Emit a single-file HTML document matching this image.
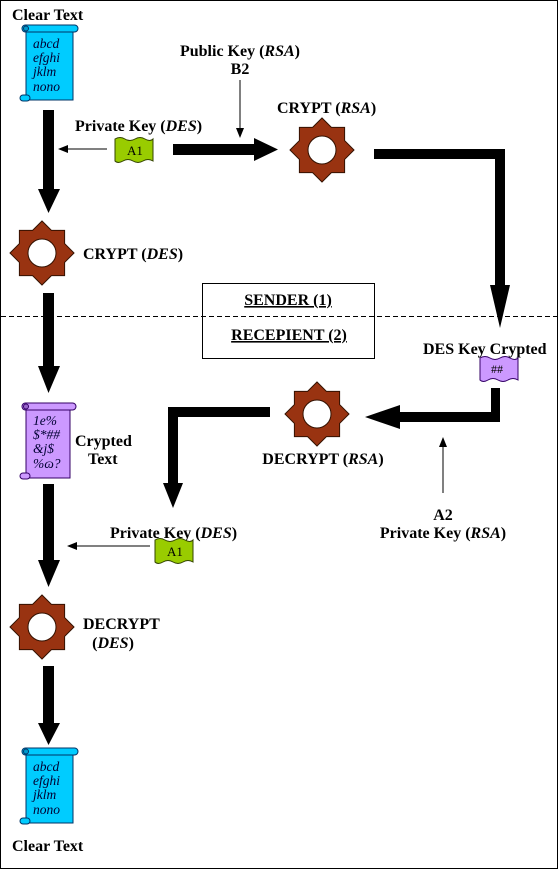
<!DOCTYPE html>
<html><head><meta charset="utf-8"><style>
html,body{margin:0;padding:0;background:#fff;}
svg{display:block;}
text{font-family:"Liberation Serif",serif;}
.b{font-weight:bold;font-size:16px;fill:#000;}
.s{font-style:italic;font-size:13.5px;fill:#000033;}
</style></head><body>
<svg width="558" height="869" viewBox="0 0 558 869" xmlns="http://www.w3.org/2000/svg">
<defs>
<g id="gear">
<polygon points="32,0 22.6,9.4 22.6,22.6 9.4,22.6 0,32 -9.4,22.6 -22.6,22.6 -22.6,9.4 -32,0 -22.6,-9.4 -22.6,-22.6 -9.4,-22.6 0,-32 9.4,-22.6 22.6,-22.6 22.6,-9.4" fill="#993311" stroke="#331100" stroke-width="1"/>
<circle cx="0" cy="0" r="14" fill="#fff" stroke="#331100" stroke-width="1"/>
</g>
<clipPath id="sc"><rect x="8" y="3" width="47" height="69"/></clipPath>
</defs>
<rect x="0.5" y="0.5" width="557" height="868" fill="#fff" stroke="#000"/>
<line x1="1" y1="316.5" x2="557" y2="316.5" stroke="#000" stroke-dasharray="5,3"/>

<g transform="translate(18,25)">
<rect x="8" y="3" width="47" height="72" fill="#00ccff" stroke="#003366"/>
<rect x="4" y="0" width="56" height="7" rx="3.5" fill="#00ccff" stroke="#003366"/>
<circle cx="8" cy="3.5" r="2.5" fill="#0099cc" stroke="#003366"/>
<rect x="2" y="70" width="10" height="6" rx="3" fill="#00ccff" stroke="#003366"/>
<g clip-path="url(#sc)"><text class="s" x="15" y="23">abcd</text><text class="s" x="15" y="37">efghi</text><text class="s" x="15" y="51">jklm</text><text class="s" x="15" y="66">nono</text></g>
</g>
<text class="b" x="12" y="20">Clear Text</text>

<polygon points="43,110 54,110 54,189 60,189 48.5,213 38,189 43,189" fill="#000"/>
<use href="#gear" x="42" y="253"/>
<text class="b" x="83" y="259">CRYPT (<tspan font-style="italic">DES</tspan>)</text>

<text class="b" x="75" y="131">Private Key (<tspan font-style="italic">DES</tspan>)</text>
<g transform="translate(115,137)"><path d="M0,2 Q5,-1 10,2 T20,2 T30,2 T38,2 L38,24 Q33,21 28,24 T18,24 T8,24 T0,24 Z" fill="#99cc00" stroke="#334400"/><text x="12" y="18" font-size="13" fill="#000">A1</text></g>
<line x1="107" y1="149" x2="66" y2="149" stroke="#000"/><polygon points="58,149 68,145 68,153" fill="#000"/>
<polygon points="173,144 254,144 254,138 278,149.5 254,161 254,155 173,155" fill="#000"/>

<text class="b" x="240" y="56" text-anchor="middle">Public Key (<tspan font-style="italic">RSA</tspan>)</text>
<text class="b" x="240" y="74" text-anchor="middle">B2</text>
<line x1="240" y1="80" x2="240" y2="130" stroke="#000"/><polygon points="240,138 236,128 244,128" fill="#000"/>
<text class="b" x="277" y="113">CRYPT (<tspan font-style="italic">RSA</tspan>)</text>
<use href="#gear" x="322" y="150"/>
<polygon points="374,149 505,149 505,285 510,285 500,328 490,285 495,285 495,159 374,159" fill="#000"/>

<rect x="202.5" y="283.5" width="172" height="75" fill="none" stroke="#000"/>
<text class="b" x="288" y="305" text-anchor="middle" text-decoration="underline">SENDER (1)</text>
<text class="b" x="289" y="340" text-anchor="middle" text-decoration="underline">RECEPIENT (2)</text>

<text class="b" x="423" y="354">DES Key Crypted</text>
<g transform="translate(480,356)"><path d="M0,2 Q5,-1 10,2 T20,2 T30,2 T38,2 L38,24 Q33,21 28,24 T18,24 T8,24 T0,24 Z" fill="#cc99ff" stroke="#330066"/><text x="11" y="17" font-size="12" fill="#000" font-family="Liberation Sans,sans-serif">##</text></g>

<polygon points="491,388 500,388 500,422 400,422 400,429 365,417 400,405 400,412 491,412" fill="#000"/>
<use href="#gear" x="317" y="414"/>
<text class="b" x="323" y="464" text-anchor="middle">DECRYPT (<tspan font-style="italic">RSA</tspan>)</text>
<line x1="443" y1="493" x2="443" y2="445" stroke="#000"/><polygon points="443,437 439,447 447,447" fill="#000"/>
<text class="b" x="443" y="520" text-anchor="middle">A2</text>
<text class="b" x="443" y="538" text-anchor="middle">Private Key (<tspan font-style="italic">RSA</tspan>)</text>

<polygon points="270,407 168,407 168,483 163,483 173,508 183,483 178,483 178,417 270,417" fill="#000"/>

<polygon points="43,293 54,293 54,366 60,366 48.5,393 38,366 43,366" fill="#000"/>
<g transform="translate(18,403)">
<rect x="8" y="3" width="44" height="72" fill="#cc99ff" stroke="#330066"/>
<rect x="4" y="0" width="54" height="7" rx="3.5" fill="#cc99ff" stroke="#330066"/>
<circle cx="8" cy="3.5" r="2.5" fill="#9966cc" stroke="#330066"/>
<rect x="2" y="70" width="10" height="6" rx="3" fill="#cc99ff" stroke="#330066"/>
<g clip-path="url(#sc)"><text class="s" x="15" y="22">1e%</text><text class="s" x="15" y="36">$*##</text><text class="s" x="15" y="50">&amp;j$</text><text class="s" x="15" y="65">%ɷ?</text></g>
</g>
<text class="b" x="75" y="446">Crypted</text>
<text class="b" x="88" y="464">Text</text>

<polygon points="43,484 54,484 54,560 60,560 48.5,587 38,560 43,560" fill="#000"/>
<text class="b" x="110" y="538">Private Key (<tspan font-style="italic">DES</tspan>)</text>
<g transform="translate(155,538)"><path d="M0,2 Q5,-1 10,2 T20,2 T30,2 T38,2 L38,24 Q33,21 28,24 T18,24 T8,24 T0,24 Z" fill="#99cc00" stroke="#334400"/><text x="12" y="18" font-size="13" fill="#000">A1</text></g>
<line x1="150" y1="546" x2="75" y2="546" stroke="#000"/><polygon points="67,546 77,542 77,550" fill="#000"/>

<use href="#gear" x="42" y="627"/>
<text class="b" x="83" y="629">DECRYPT</text>
<text class="b" x="113" y="648" text-anchor="middle">(<tspan font-style="italic">DES</tspan>)</text>

<polygon points="43,666 54,666 54,723 60,723 48.5,745 38,723 43,723" fill="#000"/>
<g transform="translate(18,748)">
<rect x="8" y="3" width="47" height="72" fill="#00ccff" stroke="#003366"/>
<rect x="4" y="0" width="56" height="7" rx="3.5" fill="#00ccff" stroke="#003366"/>
<circle cx="8" cy="3.5" r="2.5" fill="#0099cc" stroke="#003366"/>
<rect x="2" y="70" width="10" height="6" rx="3" fill="#00ccff" stroke="#003366"/>
<g clip-path="url(#sc)"><text class="s" x="15" y="23">abcd</text><text class="s" x="15" y="37">efghi</text><text class="s" x="15" y="51">jklm</text><text class="s" x="15" y="66">nono</text></g>
</g>
<text class="b" x="12" y="851">Clear Text</text>
</svg>
</body></html>
